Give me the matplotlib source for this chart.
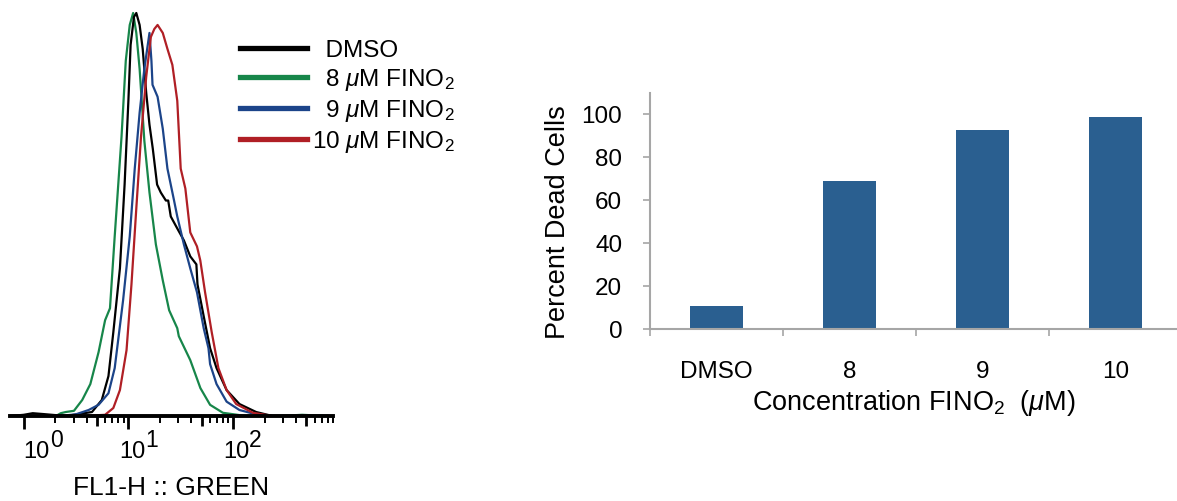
import numpy as np
import matplotlib
matplotlib.use("Agg")
import matplotlib.pyplot as plt
from matplotlib.lines import Line2D

plt.rcParams['font.family'] = ['Liberation Sans', 'DejaVu Sans']
plt.rcParams['mathtext.fontset'] = 'custom'
plt.rcParams['mathtext.rm'] = 'Liberation Sans'
plt.rcParams['mathtext.it'] = 'Liberation Sans:italic'
plt.rcParams['mathtext.bf'] = 'Liberation Sans:bold'

# ---- histogram data (FL1-H fluorescence, % of max) ----
dmso_x = [0.74, 1.0, 1.22, 1.52, 2.52, 4.49, 5.57, 6.45, 7.18, 8.3, 9.2, 10.0, 10.5, 11.3, 11.9,
          12.8, 13.7, 14.8, 15.9, 17.1, 18.8, 20.4, 22.8, 24.0, 25.4, 29.3, 33.9, 39.0, 44.6,
          45.7, 52.4, 60.3, 69.5, 86.7, 115, 166, 238, 797]
dmso_y = [0, 0.3, 0.7, 0.5, 0, 1, 4, 10, 21, 37, 58, 79, 93, 100, 101,
          98, 92, 81, 73, 67, 58, 56, 54, 54, 50, 47, 44, 40, 38,
          33, 25, 17, 12, 6.5, 3, 1, 0, 0]

fino8_x = [0.74, 2.03, 2.26, 2.52, 3.02, 3.62, 4.33, 5.19, 5.99, 6.67, 7.4, 8.6, 9.44, 10.3, 11.1,
           11.9, 12.8, 14.2, 15.9, 18.3, 21.3, 24.5, 29.3, 30.3, 39.0, 48.7, 60.3, 80, 133, 275,
           457, 797]
fino8_y = [0, 0, 0.7, 1, 1.3, 4, 8, 16, 24, 27, 45, 70, 89, 98, 101,
           96, 87, 69, 56, 43, 34, 26.5, 22, 20, 14, 7, 2.8, 0.8, 0, 0,
           0.3, 0]

fino9_x = [0.74, 2.18, 3.13, 4.17, 5.19, 6.45, 7.4, 8.9, 10.3, 11.5, 12.8, 14.2, 15.9, 16.6, 17.0,
           19.0, 21.3, 23.6, 27.3, 29.3, 33.9, 39.0, 45.2, 52.4, 58.2, 60.3, 69.5, 86.7, 115, 191, 797]
fino9_y = [0, 0, 0.4, 1.5, 2.8, 5.7, 12, 29, 45, 62, 76, 87, 96, 89, 83,
           80, 72, 62, 54, 50, 43, 37, 31, 22, 17, 13, 8, 3.6, 1.5, 0, 0]

fino10_x = [0.74, 3.62, 5.99, 7.18, 8.3, 9.6, 10.7, 11.9, 13.2, 14.8, 16.4, 17.7, 19.0, 21.3, 23.6,
            26.3, 29.3, 31.6, 35.0, 39.0, 45.2, 48.6, 54.0, 62.5, 72.4, 86.7, 107, 155, 238, 797]
fino10_y = [0, 0, 0.3, 2, 6.5, 16.5, 33, 52, 70, 85, 95, 97, 98, 96, 92,
            88, 79, 62, 57, 46, 42.5, 39, 31, 21, 12, 6.5, 3, 0.8, 0, 0]

hist_labels = ['  DMSO', '  8 $\\mu$M FINO$_2$', '  9 $\\mu$M FINO$_2$', '10 $\\mu$M FINO$_2$']
hist_colors = ['#000000', '#17864a', '#1c4489', '#b01f25']
decades = [1, 10, 100]
decade_exp = ['0', '1', '2']

# ---- bar chart data ----
conc = ['DMSO', '8', '9', '10']
dead_pct = [10.7, 68.9, 92.6, 98.8]

fig = plt.figure(figsize=(11.77, 5.01), dpi=100)

# ================= histogram =================
ax1 = fig.add_axes([10 / 1177, 85 / 501, 323 / 1177, 411 / 501])
series = [(dmso_x, dmso_y), (fino8_x, fino8_y), (fino9_x, fino9_y), (fino10_x, fino10_y)]
order = [1, 0, 2, 3]
for i in order:
    xs, ys = series[i]
    ax1.plot(xs, ys, color=hist_colors[i], lw=1.6, solid_joinstyle='round', zorder=2)

ax1.set_xscale('log')
ax1.set_xlim(0.74, 797)
ax1.set_ylim(0, 103)
for s in ['left', 'right', 'top']:
    ax1.spines[s].set_visible(False)
ax1.spines['bottom'].set_linewidth(2.8)
ax1.spines['bottom'].set_zorder(3)
ax1.set_yticks([])

major = [1, 5, 10, 50, 100, 500]
minor = [m * d for d in decades for m in [2, 3, 4, 6, 7, 8, 9]]
ax1.set_xticks(major)
ax1.set_xticks(minor, minor=True)
ax1.set_xticklabels([''] * len(major))
ax1.xaxis.set_minor_formatter(matplotlib.ticker.NullFormatter())
ax1.tick_params(axis='x', which='major', length=9, width=2, direction='out', color='black')
ax1.tick_params(axis='x', which='minor', length=5, width=1.4, direction='out', color='black')
for t, v in zip(ax1.xaxis.get_major_ticks(), major):
    if v in (5, 50, 500):
        t.tick1line.set_markersize(7)

# decade labels drawn as "10" plus a raised exponent of nearly equal size
label_dx = [26, 17, 16]
for d, e, dx in zip(decades, decade_exp, label_dx):
    ax1.annotate('10', xy=(d, 0), xycoords=('data', 'axes fraction'), xytext=(dx, -42),
                 textcoords='offset pixels', ha='right', va='baseline', fontsize=17)
    ax1.annotate(e, xy=(d, 0), xycoords=('data', 'axes fraction'), xytext=(dx, -31),
                 textcoords='offset pixels', ha='left', va='baseline', fontsize=16.5)

ax1.set_xlabel('FL1-H :: GREEN', fontsize=19)
ax1.xaxis.set_label_coords(0.5, -0.145)

handles = [Line2D([], [], color=c, lw=3.8) for c in hist_colors]
leg = ax1.legend(handles, hist_labels, loc='upper left', bbox_to_anchor=(0.712, 0.915),
                 frameon=False, fontsize=17.5, handlelength=2.75, handletextpad=0.2,
                 labelspacing=0.2, borderaxespad=0, borderpad=0)

# ================= bar chart =================
grey = '#a6a6a6'
ax2 = fig.add_axes([650 / 1177, 172 / 501, 527 / 1177, 236 / 501])
xpos = np.arange(len(conc))
ax2.bar(xpos, dead_pct, width=0.4, color='#2a5f90', zorder=2)
ax2.set_xlim(-0.5, 3.46)
ax2.set_ylim(0, 110)
ax2.set_yticks([0, 20, 40, 60, 80, 100])
ax2.set_xticks(xpos)
ax2.set_xticklabels(conc)
ax2.set_xticks(np.arange(-0.5, 3.0, 1.0), minor=True)
for s in ['right', 'top']:
    ax2.spines[s].set_visible(False)
for s in ['left', 'bottom']:
    ax2.spines[s].set_color(grey)
    ax2.spines[s].set_linewidth(1.5)
ax2.tick_params(axis='y', length=5, width=1.2, color=grey, pad=15, labelsize=17.5)
ax2.tick_params(axis='x', which='major', length=0, pad=23, labelsize=17.5)
ax2.tick_params(axis='x', which='minor', length=5, width=1.2, color=grey)
ax2.set_ylabel('Percent Dead Cells', fontsize=19.5)
ax2.yaxis.set_label_coords(-0.15, 0.453)
ax2.set_xlabel('Concentration FINO$_2$  ($\\mu$M)', fontsize=19.5, labelpad=4)

fig.savefig('out.png', dpi=100)
